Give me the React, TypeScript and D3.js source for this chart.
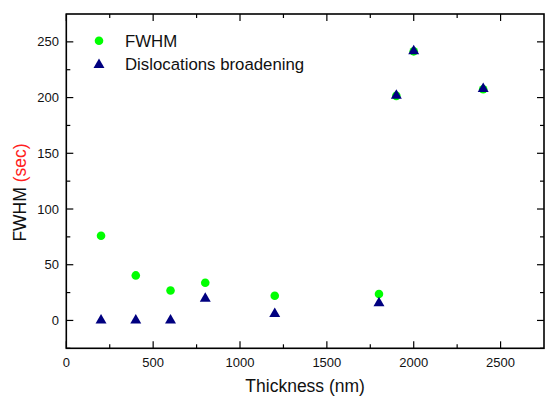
import React from 'react';
import * as d3 from 'd3';

const width = 545;
const height = 397;
const plot = { left: 66.3, right: 544, top: 14, bottom: 348.3 };

// data
const thickness = [200, 400, 600, 800, 1200, 1800, 1900, 2000, 2400];
const fwhm = [76, 40.4, 26.9, 33.8, 22.2, 23.7, 201.5, 241.5, 207.5];
const broadening = [0, 0, 0, 19.7, 6, 15.6, 201.8, 241.8, 207.9];

const xTicks = [0, 500, 1000, 1500, 2000, 2500];
const yTicks = [0, 50, 100, 150, 200, 250];
const xLabel = 'Thickness (nm)';
const yLabel = 'FWHM';
const yUnit = '(sec)';
const seriesNames = ['FWHM', 'Dislocations broadening'];

const green = '#00ff00';
const navy = '#000080';
const font = '"Liberation Sans", Arial, sans-serif';

const App = () => {
  const xScale = d3.scaleLinear().domain([0, 2750]).range([plot.left, plot.right]);
  const yScale = d3.scaleLinear().domain([-25, 275]).range([plot.bottom, plot.top]);

  const xMinor = d3.range(250, 2750, 500);
  const yMinor = d3.range(-25, 275, 50);

  const circleR = 4.3;
  const triPath = d3.symbol().type(d3.symbolTriangle).size(52)() as string;

  const major = 7;
  const minor = 4;

  return (
    <svg
      width={width}
      height={height}
      style={{ position: 'absolute', left: 0, top: 0, background: '#fff' }}
      fontFamily={font}
    >
      {/* ticks, all four sides, pointing inward */}
      <g stroke="#000" strokeWidth={1.2}>
        {xTicks.map(t => [
          <line key={'xb' + t} x1={xScale(t)} x2={xScale(t)} y1={plot.bottom} y2={plot.bottom - major} />,
          <line key={'xt' + t} x1={xScale(t)} x2={xScale(t)} y1={plot.top} y2={plot.top + major} />,
        ])}
        {xMinor.map(t => [
          <line key={'xbm' + t} x1={xScale(t)} x2={xScale(t)} y1={plot.bottom} y2={plot.bottom - minor} />,
          <line key={'xtm' + t} x1={xScale(t)} x2={xScale(t)} y1={plot.top} y2={plot.top + minor} />,
        ])}
        {yTicks.map(t => [
          <line key={'yl' + t} x1={plot.left} x2={plot.left + major} y1={yScale(t)} y2={yScale(t)} />,
          <line key={'yr' + t} x1={plot.right} x2={plot.right - major} y1={yScale(t)} y2={yScale(t)} />,
        ])}
        {yMinor.map(t => [
          <line key={'ylm' + t} x1={plot.left} x2={plot.left + minor} y1={yScale(t)} y2={yScale(t)} />,
          <line key={'yrm' + t} x1={plot.right} x2={plot.right - minor} y1={yScale(t)} y2={yScale(t)} />,
        ])}
      </g>

      <rect
        x={plot.left}
        y={plot.top}
        width={plot.right - plot.left}
        height={plot.bottom - plot.top}
        fill="none"
        stroke="#000"
        strokeWidth={1.6}
      />

      {/* tick labels */}
      <g fontSize={13} fill="#111">
        {xTicks.map(t => (
          <text key={'xl' + t} x={xScale(t)} y={366.5} textAnchor="middle">
            {t}
          </text>
        ))}
        {yTicks.map(t => (
          <text key={'yl' + t} x={59} y={yScale(t) + 4.6} textAnchor="end">
            {t}
          </text>
        ))}
      </g>

      {/* axis titles */}
      <text x={(plot.left + plot.right) / 2} y={392} textAnchor="middle" fontSize={17.5} fill="#111">
        {xLabel}
      </text>
      <text
        transform={`translate(25.5, 192.5) rotate(-90)`}
        textAnchor="middle"
        fontSize={17.5}
        fill="#111"
      >
        {yLabel} <tspan fill="#ff2020">{yUnit}</tspan>
      </text>

      {/* data */}
      {thickness.map((t, i) => (
        <circle key={'c' + t} cx={xScale(t)} cy={yScale(fwhm[i])} r={circleR} fill={green} />
      ))}
      {thickness.map((t, i) => (
        <path
          key={'t' + t}
          d={triPath}
          transform={`translate(${xScale(t)},${yScale(broadening[i])})`}
          fill={navy}
        />
      ))}

      {/* legend */}
      <g fontSize={16.8} fill="#111">
        <circle cx={99} cy={40.8} r={circleR} fill={green} />
        <text x={125} y={47}>{seriesNames[0]}</text>
        <path d={triPath} transform="translate(99,64.8)" fill={navy} />
        <text x={125} y={70}>{seriesNames[1]}</text>
      </g>
    </svg>
  );
};

export default App;
